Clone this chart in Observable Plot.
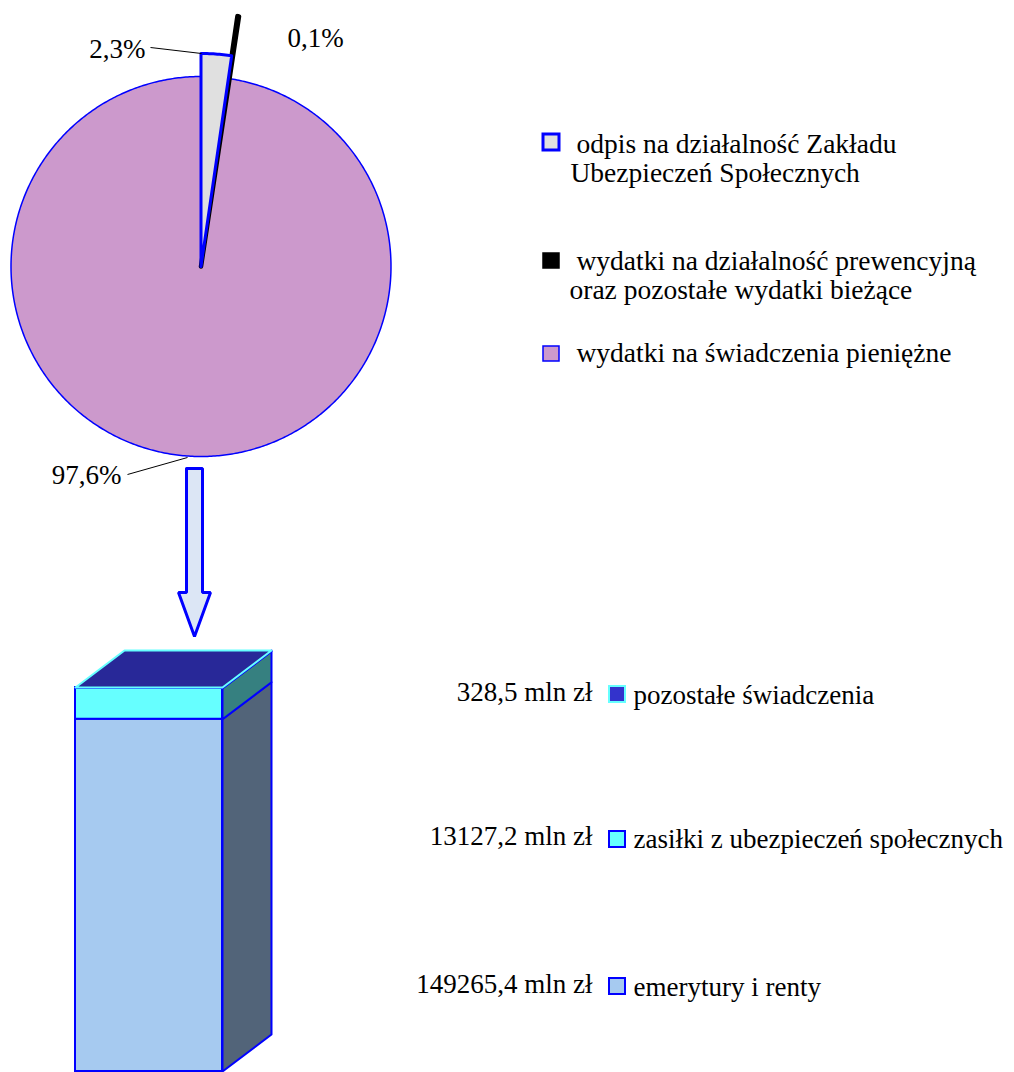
<!DOCTYPE html>
<html><head><meta charset="utf-8">
<script src="https://cdn.jsdelivr.net/npm/d3@7"></script>
<script src="https://cdn.jsdelivr.net/npm/@observablehq/plot@0.6"></script>
<style>
body{margin:0;background:#fff}
#chart{position:relative;width:1014px;height:1072px;overflow:hidden}
#chart svg{position:absolute;left:0;top:0}
</style>
</head><body><div id="chart"></div>
<script>
// ---- data ----
const pieLabels = [
  ["odpis na działalność Zakładu", "Ubezpieczeń Społecznych"],
  ["wydatki na działalność prewencyjną", "oraz pozostałe wydatki bieżące"],
  ["wydatki na świadczenia pieniężne"]
];
const pieShares = [2.3, 0.1, 97.6];
const pieShareText = ["2,3%", "0,1%", "97,6%"];
const benefitLabels = ["emerytury i renty", "zasiłki z ubezpieczeń społecznych", "pozostałe świadczenia"];
const benefitValues = [149265.4, 13127.2, 328.5];
const benefitValueText = ["149265,4 mln zł", "13127,2 mln zł", "328,5 mln zł"];

// ---- styles / layout ----
const W = 1014, H = 1072;
const FONT = "Liberation Serif, Times New Roman, serif";
const sliceFill = ["#E0E0E0", "#000000", "#CC99CC"];
const sliceStroke = ["#0000FF", "#000000", "#0000FF"];
const sliceStrokeW = [3, 4.5, 1.5];
const sliceRadius = [213, 253, 190];
const cx = 200.5, cy = 266;
const segFront = ["#A6CAF0", "#66FFFF", "#3333CC"];
const segSide = ["#526479", "#368080", "#2A2A9A"];
const topFace = "#282898";
const legSqFill = ["#A6CAF0", "#66FFFF", "#3333CC"];
const legSqStroke = ["#0000FF", "#0000FF", "#66FFFF"];

const container = document.getElementById("chart");

// ---------- Pie + legends + arrow (pixel-identity scales) ----------
const arcs = d3.pie().sort(null).value(d => d)(pieShares);
function slicePoly(a, i) {
  const r = sliceRadius[i];
  const pts = [{x: cx, y: cy}];
  const n = Math.max(2, Math.ceil((a.endAngle - a.startAngle) / 0.01));
  for (let k = 0; k <= n; k++) {
    const t = a.startAngle + (a.endAngle - a.startAngle) * k / n;
    pts.push({x: cx + r * Math.sin(t), y: cy - r * Math.cos(t)});
  }
  pts.push({x: cx, y: cy});
  return pts;
}
const order = [2, 1, 0];
const pieMarks = order.map(i => Plot.line(slicePoly(arcs[i], i), {
  x: "x", y: "y", fill: sliceFill[i], stroke: sliceStroke[i],
  strokeWidth: sliceStrokeW[i], strokeLinejoin: "round", curve: "linear"
}));

// arrow (decorative)
const arrow = [
  {x: 186, y: 468}, {x: 202, y: 468}, {x: 202, y: 592}, {x: 210, y: 592},
  {x: 194, y: 636}, {x: 178, y: 592}, {x: 186, y: 592}, {x: 186, y: 468}
];

const pctPos = [
  {x: 145, y: 57, anchor: "end", line: [[150, 47], [201, 53]]},
  {x: 287, y: 46, anchor: "start", line: null},
  {x: 121, y: 483, anchor: "end", line: [[127, 474], [187, 457]]}
];

const legTop = [
  {sq: [543, 134, 559, 150], lines: [[576, 152], [570, 181]]},
  {sq: [543, 253, 559, 268], lines: [[576, 269], [569, 298]]},
  {sq: [543, 346, 559, 361], lines: [[576, 361]]}
];

const marks1 = [...pieMarks];
pctPos.forEach((p, i) => {
  if (p.line) marks1.push(Plot.link([p.line], {x1: d => d[0][0], y1: d => d[0][1], x2: d => d[1][0], y2: d => d[1][1], stroke: "#000", strokeWidth: 1}));
  marks1.push(Plot.text([pieShareText[i]], {x: () => p.x, y: () => p.y, text: d => d, textAnchor: p.anchor, lineAnchor: "bottom", fontSize: 27, fontFamily: FONT, fill: "#000"}));
});
marks1.push(Plot.line(arrow, {x: "x", y: "y", fill: "#DCE6F5", stroke: "#0000FF", strokeWidth: 3, strokeLinejoin: "miter"}));
legTop.forEach((l, i) => {
  marks1.push(Plot.rect([l.sq], {x1: d => d[0], y1: d => d[1], x2: d => d[2], y2: d => d[3],
    fill: sliceFill[i], stroke: i === 1 ? "#000" : "#0000FF", strokeWidth: i === 0 ? 3 : 1.5}));
  l.lines.forEach((ln, j) => {
    marks1.push(Plot.text([pieLabels[i][j]], {x: () => ln[0], y: () => ln[1], text: d => d, textAnchor: "start", lineAnchor: "bottom", fontSize: 27.5, fontFamily: FONT, fill: "#000"}));
  });
});

// bottom legend
const legBot = [
  {base: 995, sq: [609, 978, 625, 994]},
  {base: 847, sq: [609, 831, 625, 847]},
  {base: 703, sq: [609, 686, 625, 702]}
];
legBot.forEach((l, i) => {
  marks1.push(Plot.text([benefitValueText[i]], {x: () => 592, y: () => l.base - 3, text: d => d, textAnchor: "end", lineAnchor: "bottom", fontSize: 27, fontFamily: FONT, fill: "#000"}));
  marks1.push(Plot.rect([l.sq], {x1: d => d[0], y1: d => d[1], x2: d => d[2], y2: d => d[3], fill: legSqFill[i], stroke: legSqStroke[i], strokeWidth: 2}));
  marks1.push(Plot.text([benefitLabels[i]], {x: () => 633, y: () => l.base, text: d => d, textAnchor: "start", lineAnchor: "bottom", fontSize: 27, fontFamily: FONT, fill: "#000"}));
});

const plot1 = Plot.plot({
  width: W, height: H, margin: 0,
  x: {domain: [0, W], range: [0, W], axis: null},
  y: {domain: [0, H], range: [0, H], axis: null},
  style: {background: "transparent", fontFamily: FONT, overflow: "visible"},
  marks: marks1
});

// ---------- 3D stacked bar (value scale) ----------
const total = d3.sum(benefitValues);
const yBottom = 1071, yTop = 687;
const pxPerUnit = (yBottom - yTop) / total;
const depthX = 49, depthY = 37;
const dv = depthY / pxPerUnit;
const fx1 = 75, fx2 = 222;
let acc = 0;
const segs = benefitValues.map((v, i) => { const s = {i, y1: acc, y2: acc + v}; acc += v; return s; });

const marks2 = [];
segs.forEach(s => {
  marks2.push(Plot.rect([s], {x1: () => fx1, x2: () => fx2, y1: "y1", y2: "y2", fill: segFront[s.i], stroke: "#0000FF", strokeWidth: 2}));
  const side = [
    {x: fx2, y: s.y1}, {x: fx2 + depthX, y: s.y1 + dv}, {x: fx2 + depthX, y: s.y2 + dv}, {x: fx2, y: s.y2}, {x: fx2, y: s.y1}
  ];
  marks2.push(Plot.line(side, {x: "x", y: "y", fill: segSide[s.i], stroke: "#0000FF", strokeWidth: 2}));
});
const topFacePts = [
  {x: fx1, y: total}, {x: fx2, y: total}, {x: fx2 + depthX, y: total + dv}, {x: fx1 + depthX, y: total + dv}, {x: fx1, y: total}
];
marks2.push(Plot.line(topFacePts, {x: "x", y: "y", fill: topFace, stroke: "#66FFFF", strokeWidth: 2, strokeLinejoin: "round"}));

const plot2 = Plot.plot({
  width: W, height: H, margin: 0,
  x: {domain: [0, W], range: [0, W], axis: null},
  y: {domain: [0, total], range: [yBottom, yTop], axis: null},
  style: {background: "transparent", overflow: "visible"},
  marks: marks2
});

container.appendChild(plot2);
container.appendChild(plot1);
</script>
</body></html>
